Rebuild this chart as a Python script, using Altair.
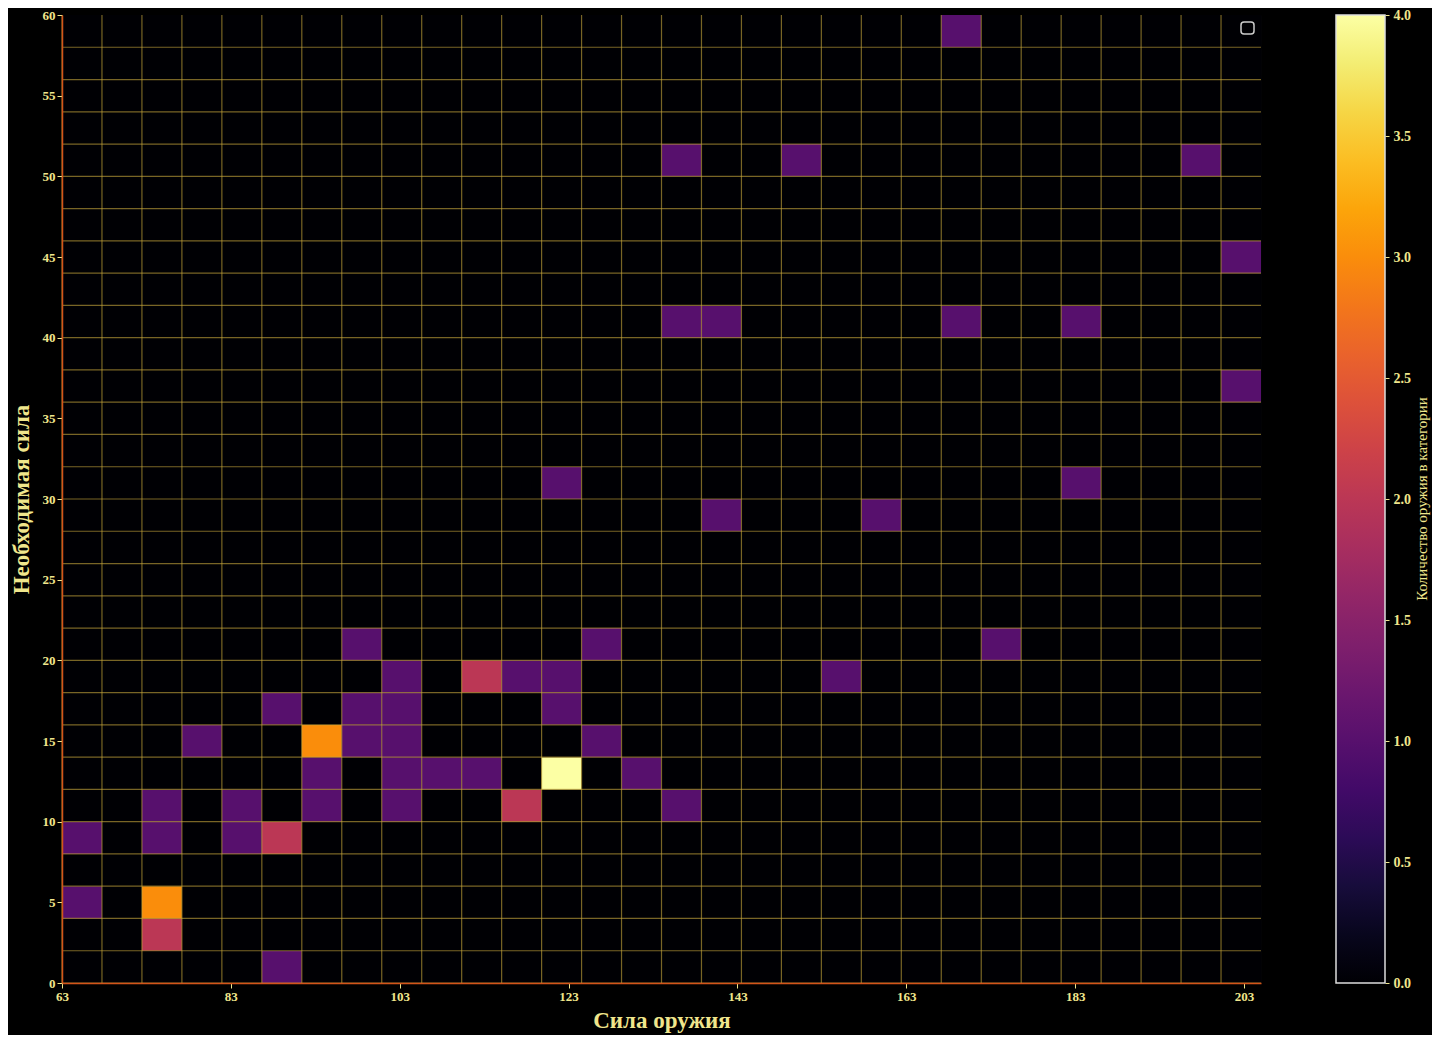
import altair as alt
import numpy as np
import pandas as pd

# Histogram extent and bins
x_min, x_max, n_x = 63, 205, 30
y_min, y_max, n_y = 0, 60, 30

# Non-empty cells: column (x-bin) index, row (y-bin) index, count
cell_col = [5, 2, 0, 2, 0, 2, 4, 5, 2, 4, 6, 8, 11, 15, 6, 8, 9, 10, 12, 14,
            3, 6, 7, 8, 13, 5, 7, 8, 12, 8, 10, 11, 12, 19, 7, 13, 23, 16, 20,
            12, 25, 29, 15, 16, 22, 25, 29, 15, 18, 28, 22]
cell_row = [0, 1, 2, 2, 4, 4, 4, 4, 5, 5, 5, 5, 5, 5, 6, 6, 6, 6, 6, 6,
            7, 7, 7, 7, 7, 8, 8, 8, 8, 9, 9, 9, 9, 9, 10, 10, 10, 14, 14,
            15, 15, 18, 20, 20, 20, 20, 22, 25, 25, 25, 29]
cell_count = [1, 2, 1, 3, 1, 1, 1, 2, 1, 1, 1, 1, 2, 1, 1, 1, 1, 1, 4, 1,
              1, 3, 1, 1, 1, 1, 1, 1, 1, 1, 2, 1, 1, 1, 1, 1, 1, 1, 1,
              1, 1, 1, 1, 1, 1, 1, 1, 1, 1, 1, 1]

x_ticks = [63, 83, 103, 123, 143, 163, 183, 203]
y_ticks = [0, 5, 10, 15, 20, 25, 30, 35, 40, 45, 50, 55, 60]
cbar_min, cbar_max = 0, 4
cbar_ticks = [0.0, 0.5, 1.0, 1.5, 2.0, 2.5, 3.0, 3.5, 4.0]
cbar_title = "Количество оружия в категории"

x_edges = np.linspace(x_min, x_max, n_x + 1)
y_edges = np.linspace(y_min, y_max, n_y + 1)

counts = np.zeros((n_x, n_y))
for c, r, v in zip(cell_col, cell_row, cell_count):
    counts[c, r] = v

rows = []
for i in range(n_x):
    for j in range(n_y):
        rows.append({"x0": x_edges[i], "x1": x_edges[i + 1],
                     "y0": y_edges[j], "y1": y_edges[j + 1],
                     "n": counts[i, j]})
cells_df = pd.DataFrame(rows)
vgrid_df = pd.DataFrame({"e": x_edges[:-1]})
hgrid_df = pd.DataFrame({"e": y_edges[:-1]})
cbar_df = pd.DataFrame({"v": cbar_ticks})

GOLD = "#f0e68c"
SERIF = "Liberation Serif"
W, H = 1199, 968
CB_X, CB_W = 1274, 49

xscale = alt.Scale(domain=[x_min, x_max], nice=False, zero=False)
yscale = alt.Scale(domain=[y_min, y_max], nice=False, zero=False)
yaxis = alt.Axis(values=y_ticks, title="Необходимая сила", grid=False,
                 labelFlush=False, zindex=1, titlePadding=9)

cells = alt.Chart(cells_df).mark_rect(strokeWidth=0).encode(
    x=alt.X("x0:Q", scale=xscale,
            axis=alt.Axis(values=x_ticks, title="Сила оружия", grid=False,
                          labelFlush=False, zindex=1, titlePadding=6)),
    x2="x1:Q",
    y=alt.Y("y0:Q", scale=yscale, axis=yaxis),
    y2="y1:Q",
    color=alt.Color("n:Q",
                    scale=alt.Scale(scheme="inferno", domain=[cbar_min, cbar_max]),
                    legend=alt.Legend(
                        title=None,
                        orient="none", legendX=CB_X, legendY=0,
                        direction="vertical",
                        gradientLength=H, gradientThickness=CB_W,
                        gradientStrokeColor="#dddddd", gradientStrokeWidth=1.5,
                        values=[cbar_min, cbar_max], labelExpr="''",
                        padding=0)),
)

vgrid = alt.Chart(vgrid_df).mark_rule(color="#c8a83c", opacity=0.6, strokeWidth=1.2).encode(
    x=alt.X("e:Q", scale=xscale))
hgrid = alt.Chart(hgrid_df).mark_rule(color="#c8a83c", opacity=0.6, strokeWidth=1.2).encode(
    y=alt.Y("e:Q", scale=yscale, axis=yaxis))

legend_box = alt.Chart(pd.DataFrame({"a": [0]})).mark_rect(
    fill="transparent", stroke="#cccccc", strokeWidth=1.5, cornerRadius=3).encode(
    x=alt.value(1179), x2=alt.value(1192), y=alt.value(7), y2=alt.value(19))

main = alt.layer(cells, vgrid, hgrid, legend_box)

# colour-bar tick axis (scale of the colour values, drawn at the bar's right edge)
cbar_axis = alt.Chart(cbar_df).mark_point(opacity=0).encode(
    x=alt.value(CB_X + CB_W),
    y=alt.Y("v:Q", scale=alt.Scale(domain=[cbar_min, cbar_max], nice=False, zero=False),
            axis=alt.Axis(orient="right", offset=CB_X + CB_W - W, values=cbar_ticks,
                          format=".1f", domain=False, grid=False, title=None,
                          tickSize=4, tickColor=GOLD, labelPadding=4,
                          labelFontSize=14, labelFlush=False)),
)

cbar_label = alt.Chart(pd.DataFrame({"t": [cbar_title]})).mark_text(
    angle=270, align="center", baseline="middle", font=SERIF, fontSize=15,
    color=GOLD).encode(
    text="t:N", x=alt.value(1360), y=alt.value(H / 2))

chart = alt.layer(main, cbar_axis, cbar_label).resolve_scale(y="independent").properties(
    width=W, height=H,
    autosize=alt.AutoSizeParams(type="none"),
    padding={"left": 54, "top": 7, "right": 171, "bottom": 52},
    background="#000000",
).configure_view(stroke="transparent", fill="#050508").configure_axis(
    domainColor="#d4541a", domainWidth=1.5,
    tickColor=GOLD, tickSize=5, tickWidth=1,
    labelColor=GOLD, labelFont=SERIF, labelFontSize=13, labelFontWeight="bold",
    titleColor=GOLD, titleFont=SERIF, titleFontSize=23, titleFontWeight="bold",
)

chart.save("out.html", embed_options={"renderer": "svg", "actions": False})
